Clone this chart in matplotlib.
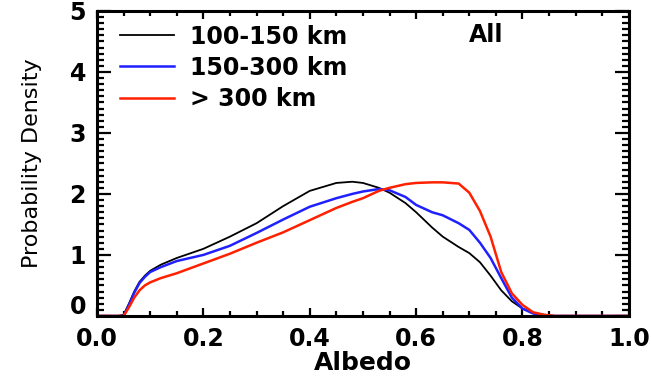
import matplotlib.pyplot as plt
from matplotlib.ticker import MultipleLocator, FormatStrFormatter, FuncFormatter

plt.rcParams['font.weight'] = 'bold'

# albedo grid and densities
alb = [0.0, 0.04, 0.05, 0.06, 0.07, 0.08, 0.09, 0.10, 0.12, 0.15, 0.20, 0.25, 0.30, 0.35,
       0.40, 0.45, 0.48, 0.50, 0.53, 0.55, 0.58, 0.60, 0.63, 0.65, 0.68, 0.70, 0.72,
       0.74, 0.76, 0.78, 0.80, 0.82, 0.84, 0.86, 0.90, 1.0]

dens_100_150 = [0.0, 0.0, 0.02, 0.2, 0.4, 0.56, 0.66, 0.74, 0.84, 0.95, 1.1, 1.3, 1.52, 1.8,
                2.05, 2.18, 2.2, 2.18, 2.1, 2.02, 1.85, 1.7, 1.45, 1.3, 1.13, 1.03, 0.88,
                0.66, 0.42, 0.24, 0.12, 0.05, 0.02, 0.0, 0.0, 0.0]
dens_150_300 = [0.0, 0.0, 0.0, 0.18, 0.38, 0.54, 0.64, 0.72, 0.8, 0.9, 1.0, 1.15, 1.36, 1.58,
                1.79, 1.93, 2.0, 2.04, 2.08, 2.06, 1.95, 1.82, 1.7, 1.65, 1.52, 1.41, 1.2,
                0.95, 0.62, 0.3, 0.12, 0.04, 0.01, 0.0, 0.0, 0.0]
dens_300 = [0.0, 0.0, 0.0, 0.14, 0.3, 0.42, 0.5, 0.55, 0.62, 0.7, 0.86, 1.02, 1.2, 1.37,
            1.57, 1.77, 1.87, 1.93, 2.05, 2.1, 2.16, 2.18, 2.19, 2.19, 2.17, 2.02, 1.72,
            1.3, 0.72, 0.37, 0.18, 0.06, 0.02, 0.0, 0.0, 0.0]

labels = ['100-150 km', '150-300 km', '> 300 km']
colors = ['black', '#2020ff', '#ff2000']

fig = plt.figure(figsize=(6.51, 3.77), dpi=100)
ax = fig.add_axes([0.149, 0.162, 0.817, 0.809])

for d, lab, c, lw in zip([dens_100_150, dens_150_300, dens_300], labels, colors, [1.3, 1.8, 1.8]):
    ax.plot(alb, d, color=c, lw=lw, label=lab)

ax.set_xlim(0, 1)
ax.set_ylim(0, 5)
ax.xaxis.set_major_locator(MultipleLocator(0.2))
ax.xaxis.set_minor_locator(MultipleLocator(0.05))
ax.yaxis.set_major_locator(MultipleLocator(1))
ax.yaxis.set_minor_locator(MultipleLocator(0.1))
ax.xaxis.set_major_formatter(FormatStrFormatter('%.1f'))
# the "0" label sits a bit above its tick in the original, drawn separately below
ax.yaxis.set_major_formatter(FuncFormatter(lambda v, p: '' if v == 0 else '%d' % v))
ax.tick_params(which='both', direction='in', top=True, right=True, width=1.6)
ax.tick_params(axis='x', which='major', length=6, pad=8, labelsize=17)
ax.tick_params(axis='x', which='minor', length=3.5)
ax.tick_params(axis='y', which='major', length=10, pad=8, labelsize=17)
ax.tick_params(axis='y', which='minor', length=5)
for s in ax.spines.values():
    s.set_linewidth(2.2)

trans, va, ha = ax.get_yaxis_text1_transform(8)
ax.text(0, 0.18, '0', transform=trans, va=va, ha=ha, fontsize=17, fontweight='bold')

ax.set_xlabel('Albedo', fontsize=18, fontweight='bold', labelpad=0)
ax.set_ylabel('Probability Density', fontsize=16, fontweight='normal', labelpad=20)

leg = ax.legend(loc='upper left', bbox_to_anchor=(0.043, 0.955), frameon=False,
                borderpad=0, borderaxespad=0,
                handlelength=2.3, handletextpad=0.65, labelspacing=0.3,
                prop={'size': 17, 'weight': 'bold'})
ax.text(0.70, 0.92, 'All', transform=ax.transAxes, fontsize=17, fontweight='bold',
        ha='left', va='center')

fig.savefig('out.png', dpi=100)
